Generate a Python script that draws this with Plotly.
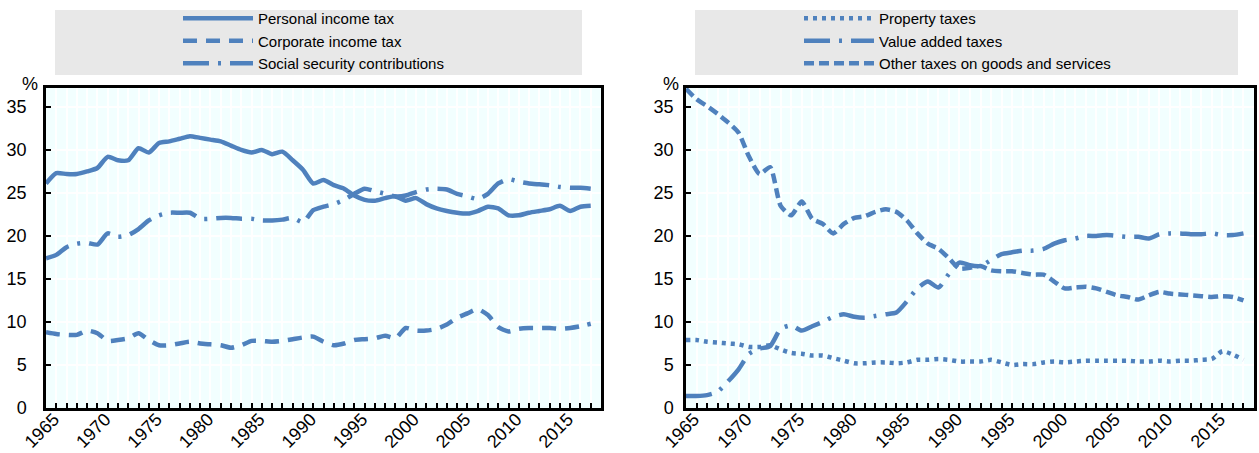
import plotly.graph_objects as go

years = list(range(1965, 2019))

personal_income_tax = [26.1, 27.3, 27.2, 27.2, 27.5, 27.9, 29.2, 28.8, 28.8, 30.2,
                       29.7, 30.8, 31.0, 31.3, 31.6, 31.4, 31.2, 31.0, 30.5, 30.0,
                       29.7, 30.0, 29.5, 29.8, 28.8, 27.7, 26.1, 26.5, 25.9, 25.5,
                       24.7, 24.2, 24.1, 24.4, 24.6, 24.1, 24.4, 23.7, 23.2, 22.9,
                       22.7, 22.6, 22.9, 23.4, 23.2, 22.4, 22.4, 22.7, 22.9, 23.1,
                       23.5, 22.9, 23.4, 23.5]
corporate_income_tax = [8.8, 8.6, 8.5, 8.5, 9.0, 8.7, 7.8, 7.9, 8.1, 8.7,
                        7.9, 7.3, 7.3, 7.5, 7.7, 7.5, 7.4, 7.3, 7.0, 7.3,
                        7.8, 7.8, 7.7, 7.8, 8.0, 8.2, 8.3, 7.7, 7.3, 7.5,
                        7.9, 8.0, 8.1, 8.4, 8.1, 9.3, 9.0, 9.0, 9.2, 9.7,
                        10.5, 11.0, 11.5, 10.8, 9.4, 8.9, 9.2, 9.3, 9.3, 9.3,
                        9.2, 9.3, 9.5, 9.8]
social_security = [17.4, 17.8, 18.7, 19.1, 19.2, 19.0, 20.3, 19.9, 20.1, 20.8,
                   21.8, 22.4, 22.7, 22.7, 22.7, 22.0, 22.0, 22.1, 22.1, 22.0,
                   22.0, 21.8, 21.8, 21.9, 22.1, 21.6, 23.0, 23.4, 23.7, 24.2,
                   24.9, 25.5, 25.2, 24.9, 24.6, 24.7, 25.1, 25.4, 25.5, 25.4,
                   24.9, 24.6, 24.3, 24.9, 26.1, 26.6, 26.3, 26.1, 26.0, 25.9,
                   25.7, 25.6, 25.6, 25.5]
property_taxes = [7.9, 7.9, 7.7, 7.6, 7.5, 7.4, 7.1, 7.1, 7.3, 6.8,
                  6.4, 6.3, 6.1, 6.1, 5.8, 5.5, 5.2, 5.2, 5.3, 5.3,
                  5.2, 5.3, 5.6, 5.6, 5.7, 5.6, 5.4, 5.4, 5.4, 5.6,
                  5.3, 5.0, 5.1, 5.1, 5.3, 5.4, 5.3, 5.4, 5.5, 5.5,
                  5.5, 5.5, 5.5, 5.4, 5.4, 5.5, 5.4, 5.5, 5.5, 5.6,
                  5.7, 6.6, 6.2, 5.6]
value_added_taxes = [1.4, 1.4, 1.5, 1.9, 3.1, 4.5, 6.3, 6.9, 7.2, 9.2,
                     9.6, 9.0, 9.5, 10.0, 10.6, 10.9, 10.6, 10.5, 10.7, 10.9,
                     11.1, 12.4, 13.9, 14.7, 14.0, 15.6, 16.9, 16.6, 16.5, 17.2,
                     17.9, 18.1, 18.3, 18.3, 18.5, 19.1, 19.5, 19.7, 20.0, 20.0,
                     20.1, 20.0, 19.9, 19.9, 19.7, 20.2, 20.3, 20.3, 20.2, 20.2,
                     20.3, 20.1, 20.1, 20.3]
other_goods_services = [37.1, 35.9, 35.1, 34.2, 33.2, 32.0, 29.2, 27.2, 28.0, 23.5,
                        22.4, 24.0, 22.0, 21.4, 20.3, 21.4, 22.1, 22.3, 22.8, 23.1,
                        22.8, 21.8, 20.3, 19.1, 18.5, 17.4, 16.2, 16.3, 16.5, 16.0,
                        15.9, 15.9, 15.7, 15.5, 15.5, 14.7, 13.9, 14.0, 14.1, 13.9,
                        13.5, 13.1, 12.9, 12.6, 13.1, 13.5, 13.3, 13.2, 13.1, 13.0,
                        12.9, 13.0, 12.9, 12.5]

left_names = ["Personal income tax", "Corporate income tax", "Social security contributions"]
right_names = ["Property taxes", "Value added taxes", "Other taxes on goods and services"]
tick_years = list(range(1965, 2016, 5))
y_ticks = [0, 5, 10, 15, 20, 25, 30, 35]

W, H = 1259, 453
BLUE = "#4F81BD"
TICK_FONT = dict(family="Liberation Sans, Arial, sans-serif", size=18, color="black")
LEG_FONT = dict(family="Liberation Sans, Arial, sans-serif", size=15, color="black")

fig = go.Figure()

def add(y, name, dash, xa, ya, legend):
    fig.add_trace(go.Scatter(
        x=years, y=y, name=name, mode="lines", xaxis=xa, yaxis=ya, legend=legend,
        line=dict(color=BLUE, width=4.5, dash=dash, shape="spline", smoothing=0.6),
        hoverinfo="skip"))

add(personal_income_tax, left_names[0], "solid", "x", "y", "legend")
add(corporate_income_tax, left_names[1], "14px,9px", "x", "y", "legend")
add(social_security, left_names[2], "26px,9px,3px,9px", "x", "y", "legend")
add(property_taxes, right_names[0], "4px,5px", "x2", "y2", "legend2")
add(value_added_taxes, right_names[1], "26px,9px,3px,9px", "x2", "y2", "legend2")
add(other_goods_services, right_names[2], "10px,5px", "x2", "y2", "legend2")

def px(x):
    return x / W

def py(y):
    return 1 - y / H

xcommon = dict(range=[1965, 2019], tickmode="array", tickvals=tick_years,
               ticktext=[str(t) for t in tick_years], tickangle=-45,
               ticks="inside", ticklen=5, tickwidth=2, tickcolor="black",
               ticklabelstandoff=-9, ticklabelshift=8,
               minor=dict(dtick=1, tick0=1965, ticks="inside", ticklen=5, tickwidth=2,
                          tickcolor="black", showgrid=True, gridcolor="white", gridwidth=1.5),
               showgrid=True, gridcolor="white", gridwidth=1.5,
               showline=True, linecolor="black", linewidth=2.5, mirror=True,
               tickfont=TICK_FONT, zeroline=False, automargin=False, fixedrange=True)
ycommon = dict(range=[0, 37.2], tickmode="array", tickvals=y_ticks,
               ticks="inside", ticklen=5, tickwidth=2, tickcolor="black",
               showgrid=True, gridcolor="white", gridwidth=1.5,
               showline=True, linecolor="black", linewidth=2.5, mirror=True,
               tickfont=TICK_FONT, zeroline=False, automargin=False, fixedrange=True)

fig.update_layout(
    width=W, height=H,
    margin=dict(l=0, r=0, t=0, b=0),
    paper_bgcolor="white", plot_bgcolor="#F2FFFF",
    xaxis=dict(domain=[px(46), px(601)], anchor="y", **xcommon),
    yaxis=dict(domain=[py(408), py(88)], anchor="x", ticklabelstandoff=13, **ycommon),
    xaxis2=dict(domain=[px(686), px(1254)], anchor="y2", **xcommon),
    yaxis2=dict(domain=[py(408), py(88)], anchor="x2", ticklabelstandoff=6, **ycommon),
    legend=dict(x=px(178), y=py(2), xanchor="left", yanchor="top",
                bgcolor="rgba(0,0,0,0)", font=LEG_FONT, itemwidth=70,
                tracegroupgap=0, traceorder="normal"),
    legend2=dict(x=px(799), y=py(2), xanchor="left", yanchor="top",
                 bgcolor="rgba(0,0,0,0)", font=LEG_FONT, itemwidth=70,
                 tracegroupgap=0, traceorder="normal"),
    shapes=[
        dict(type="rect", xref="paper", yref="paper", x0=px(55), x1=px(582),
             y0=py(75), y1=py(10), fillcolor="#E8E8E8", line=dict(width=0), layer="below"),
        dict(type="rect", xref="paper", yref="paper", x0=px(695), x1=px(1238),
             y0=py(75), y1=py(10), fillcolor="#E8E8E8", line=dict(width=0), layer="below"),
    ],
    annotations=[
        dict(text="%", xref="paper", yref="paper", x=px(30), y=py(84), showarrow=False,
             font=TICK_FONT, xanchor="center", yanchor="middle"),
        dict(text="%", xref="paper", yref="paper", x=px(671), y=py(84), showarrow=False,
             font=TICK_FONT, xanchor="center", yanchor="middle"),
    ],
)

fig.write_html("out.html", config={"displayModeBar": False},
               post_script="document.body.style.margin='0';document.body.style.overflow='hidden';")
